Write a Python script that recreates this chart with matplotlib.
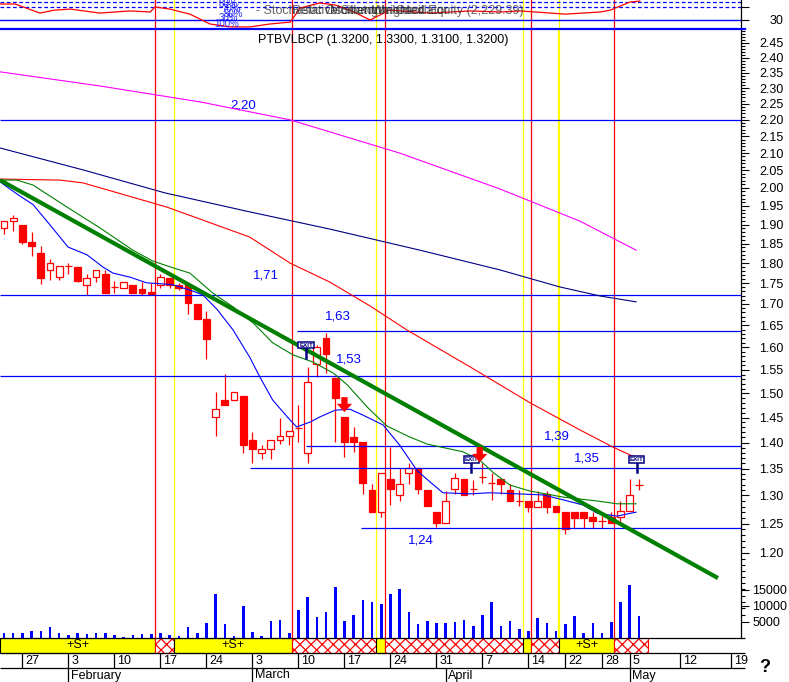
import matplotlib
matplotlib.use("Agg")
import matplotlib.pyplot as plt
from matplotlib.patches import Rectangle
from matplotlib.lines import Line2D
from matplotlib.ticker import FixedLocator, FormatStrFormatter, NullFormatter

W, H = 789, 682
plt.rcParams['font.family'] = ['Liberation Sans', 'DejaVu Sans']
plt.rcParams['hatch.linewidth'] = 0.9
plt.rcParams['hatch.color'] = 'red'

# ---- daily bars ----
opens = [1.891, 1.909, 1.899, 1.854, 1.826, 1.783, 1.765, 1.793, 1.790, 1.746,
         1.765, 1.773, 1.741, 1.739, 1.746, 1.736, 1.729, 1.746, 1.763, 1.746,
         1.746, 1.700, 1.665, 1.451, 1.486, 1.486, 1.494, 1.405, 1.380, 1.387,
         1.405, 1.413, 1.429, 1.380, 1.563, 1.621, 1.532, 1.451, 1.411, 1.401,
         1.310, 1.270, 1.330, 1.301, 1.342, 1.351, 1.310, 1.270, 1.251, 1.312,
         1.330, 1.312, 1.334, 1.323, 1.330, 1.310, 1.290, 1.290, 1.279, 1.303,
         1.281, 1.270, 1.270, 1.270, 1.262, 1.254, 1.262, 1.262, 1.272, 1.320]
highs = [1.909, 1.925, 1.899, 1.880, 1.844, 1.811, 1.793, 1.800, 1.790, 1.773,
         1.783, 1.783, 1.756, 1.753, 1.746, 1.753, 1.751, 1.773, 1.763, 1.751,
         1.746, 1.700, 1.683, 1.503, 1.541, 1.503, 1.494, 1.421, 1.395, 1.405,
         1.449, 1.423, 1.476, 1.556, 1.605, 1.632, 1.535, 1.451, 1.431, 1.401,
         1.321, 1.342, 1.391, 1.351, 1.360, 1.351, 1.310, 1.270, 1.308, 1.342,
         1.330, 1.328, 1.360, 1.342, 1.330, 1.321, 1.310, 1.290, 1.308, 1.308,
         1.281, 1.270, 1.270, 1.270, 1.270, 1.263, 1.270, 1.290, 1.330, 1.330]
lows = [1.875, 1.883, 1.849, 1.818, 1.748, 1.758, 1.758, 1.773, 1.753, 1.722,
        1.753, 1.726, 1.726, 1.739, 1.726, 1.722, 1.724, 1.739, 1.739, 1.734,
        1.676, 1.665, 1.574, 1.413, 1.476, 1.486, 1.380, 1.360, 1.368, 1.368,
        1.397, 1.395, 1.401, 1.360, 1.535, 1.543, 1.401, 1.372, 1.382, 1.303,
        1.270, 1.262, 1.283, 1.290, 1.321, 1.303, 1.281, 1.244, 1.251, 1.303,
        1.301, 1.301, 1.323, 1.292, 1.303, 1.290, 1.281, 1.270, 1.279, 1.268,
        1.270, 1.232, 1.242, 1.242, 1.242, 1.242, 1.251, 1.251, 1.272, 1.310]
closes = [1.909, 1.917, 1.854, 1.844, 1.763, 1.800, 1.793, 1.793, 1.756, 1.763,
          1.783, 1.726, 1.741, 1.753, 1.726, 1.726, 1.724, 1.765, 1.746, 1.739,
          1.702, 1.665, 1.619, 1.467, 1.476, 1.503, 1.395, 1.387, 1.387, 1.405,
          1.413, 1.423, 1.429, 1.524, 1.600, 1.585, 1.490, 1.401, 1.401, 1.323,
          1.270, 1.342, 1.312, 1.321, 1.351, 1.312, 1.281, 1.251, 1.290, 1.332,
          1.301, 1.312, 1.334, 1.323, 1.321, 1.290, 1.290, 1.279, 1.290, 1.279,
          1.270, 1.241, 1.260, 1.260, 1.254, 1.254, 1.251, 1.272, 1.301, 1.320]
volume = [1600, 1600, 1500, 2200, 2200, 3500, 1600, 800, 1600, 1300,
          1600, 1600, 1000, 400, 800, 1300, 1400, 1500, 1000, 600,
          3500, 1600, 4700, 13900, 4400, 600, 10000, 2000, 600, 5300,
          5700, 1600, 8800, 12700, 6700, 8000, 15900, 5300, 7300, 12000,
          11400, 10600, 13900, 15300, 8000, 4400, 5300, 4700, 4700, 5100,
          5500, 3900, 7100, 11400, 3900, 5300, 2900, 2200, 6300, 4700,
          2200, 4500, 7000, 1600, 4700, 1600, 5100, 11400, 16600, 7000]

# ---- overlay lines (bar position, price) ----
magenta_x = [-0.43, 10.4, 21.3, 31.1, 43.0, 53.9, 62.6, 68.7]
magenta_y = [2.353, 2.307, 2.256, 2.200, 2.100, 1.997, 1.909, 1.833]
navy_x = [-0.43, 8.6, 17.5, 26.7, 35.4, 45.2, 53.9, 60.4, 64.8, 68.7]
navy_y = [2.115, 2.051, 1.986, 1.934, 1.888, 1.833, 1.783, 1.741, 1.719, 1.705]
redma_x = [-0.43, 6.1, 8.6, 17.7, 26.7, 31.1, 35.4, 39.8, 43.8, 50.7, 57.2, 62.6, 66.2, 68.8]
redma_y = [2.025, 2.022, 2.014, 1.947, 1.867, 1.800, 1.753, 1.695, 1.639, 1.556, 1.480, 1.425, 1.391, 1.370]
blue_x = [-0.43, 1.52, 3.15, 5.0, 6.96, 9.02, 10.76, 11.85, 13.7, 15.5, 17.5, 18.4, 20.5, 21.6,
          23.2, 24.9, 26.7, 27.8, 29.2, 30.8, 31.8, 33.3, 34.3, 36.0, 37.6, 39.0, 41.2, 43.0,
          44.9, 46.3, 47.7, 50.7, 52.8, 55.8, 58.6, 60.8, 62.9, 64.5, 66.6, 68.7]
blue_y = [2.017, 1.981, 1.954, 1.899, 1.841, 1.821, 1.790, 1.775, 1.765, 1.751, 1.748, 1.746, 1.731, 1.722,
          1.686, 1.639, 1.578, 1.535, 1.486, 1.451, 1.431, 1.441, 1.451, 1.465, 1.467, 1.455, 1.435, 1.395,
          1.346, 1.325, 1.305, 1.303, 1.305, 1.303, 1.301, 1.292, 1.283, 1.268, 1.263, 1.270]
green_x = [-0.43, 1.41, 3.15, 6.85, 10.43, 14.0, 16.2, 18.4, 20.2, 22.7, 24.9, 27.1, 29.2, 31.4, 33.6,
           35.8, 37.3, 39.5, 41.6, 44.1, 46.0, 49.9, 51.7, 53.2, 55.0, 57.2, 60.8, 64.5, 66.6, 68.7]
green_y = [2.022, 2.022, 2.008, 1.947, 1.891, 1.833, 1.805, 1.788, 1.775, 1.726, 1.693, 1.655, 1.610, 1.583, 1.567,
           1.543, 1.518, 1.471, 1.433, 1.411, 1.397, 1.382, 1.366, 1.342, 1.319, 1.308, 1.297, 1.290, 1.285, 1.285]
trend_x = [-0.43, 77.6]
trend_y = [2.022, 1.158]

# horizontal levels
level_vals = [2.20, 1.722, 1.637, 1.537, 1.393, 1.351, 1.242]
level_from = [-0.43, -0.43, 31.85, -0.43, 32.8, 26.7, 38.8]
level_text = ["2,20", "1,71", "1,63", "1,53", "1,39", "1,35", "1,24"]

# signals
red_events = [16.4, 31.3, 41.4, 57.3, 66.3]
yellow_events = [18.5, 40.4, 56.4, 60.3]
exit_bars = [32.85, 50.8, 68.75]
exit_price = [1.605, 1.368, 1.368]
exit_stem = [1.576, 1.344, 1.344]
arrow_bars = [37.0, 51.7]
arrow_top = [1.492, 1.391]
arrow_tip = [1.461, 1.362]
band_edges = [-0.43, 16.4, 18.5, 31.3, 40.4, 41.4, 56.4, 57.3, 60.3, 66.3, 70.0]

# oscillator (top pane)
osc_x = [-0.43, 1.2, 3.9, 5.5, 7.2, 10.4, 13.7, 15.9, 16.4, 18.0, 20.2, 22.4, 24.6, 26.7, 28.9, 31.1,
         32.2, 34.3, 36.0, 37.6, 39.8, 41.9, 46.3, 50.7, 53.9, 56.1, 59.4, 61.0, 64.8, 65.9, 68.0, 69.1]
osc_y = [90, 90, 56, 67, 71, 56, 64, 60, 79, 71, 52, 15, 4, 4, 15, 22,
         75, 94, 86, 67, 30, 67, 56, 64, 60, 64, 56, 52, 60, 67, 97, 101]

# axis labels
price_ticks = [1.20, 1.25, 1.30, 1.35, 1.40, 1.45, 1.50, 1.55, 1.60, 1.65, 1.70, 1.75, 1.80,
               1.85, 1.90, 1.95, 2.00, 2.05, 2.10, 2.15, 2.20, 2.25, 2.30, 2.35, 2.40, 2.45]
minor_ticks = [k / 100 for k in range(110, 250)]
vol_ticks = [5000, 10000, 15000]
day_pos = [2, 7, 12, 17, 22, 27, 32, 37, 42, 47, 52, 57, 61, 65, 68, 73.5, 79]
day_lbl = ["27", "3", "10", "17", "24", "3", "10", "17", "24", "31", "7", "14", "22", "28", "5", "12", "19"]
month_pos = [7, 27, 48, 68]
month_lbl = ["February", "March", "April", "May"]

XMIN, XMAX = -0.435, 80.1
idx = list(range(len(closes)))


def box(x0, y0, x1, y1):
    return [x0 / W, 1 - y1 / H, (x1 - x0) / W, (y1 - y0) / H]


def fx(x):
    return x / W


def fy(y):
    return 1 - y / H


fig = plt.figure(figsize=(W / 100, H / 100), dpi=100)
fig.patch.set_facecolor('white')

# =========================
# price pane
# =========================
ax = fig.add_axes(box(0, 30, 741, 638))
ax.set_yscale('log')
ax.set_ylim(1.0648, 2.495)
ax.set_xlim(XMIN, XMAX)
for s in ['left', 'top', 'bottom']:
    ax.spines[s].set_visible(False)
ax.spines['right'].set_linewidth(0.9)
ax.set_xticks([])
ax.yaxis.set_major_locator(FixedLocator(price_ticks))
ax.yaxis.set_major_formatter(FormatStrFormatter('%.2f'))
ax.yaxis.set_minor_locator(FixedLocator(minor_ticks))
ax.yaxis.set_minor_formatter(NullFormatter())
ax.tick_params(axis='y', which='both', left=False, right=True, labelleft=False,
               labelright=True, direction='out', width=0.8)
ax.tick_params(axis='y', which='major', length=6, pad=7, labelsize=9)
ax.tick_params(axis='y', which='minor', length=3)

for x in red_events:
    ax.axvline(x, color='red', lw=0.9, zorder=1)
for x in yellow_events:
    ax.axvline(x, color='#ffff00', lw=1.6 if x > 60 else 0.9, zorder=1)

for i in idx:
    o, h, l, c = opens[i], highs[i], lows[i], closes[i]
    ax.vlines(i, l, h, color='red', lw=0.9, zorder=3)
    if abs(c - o) < 1e-6:
        ax.hlines(o, i - 0.4, i + 0.4, color='red', lw=0.9, zorder=4)
    else:
        ax.add_patch(Rectangle((i - 0.37, min(o, c)), 0.74, abs(c - o),
                               facecolor='white' if c > o else 'red',
                               edgecolor='red', lw=0.9, zorder=4))

for v, x0 in zip(level_vals, level_from):
    ax.hlines(v, x0, XMAX, color='blue', lw=0.9, zorder=5)

ax.plot(magenta_x, magenta_y, color='#ff00ff', lw=0.8, zorder=5)
ax.plot(navy_x, navy_y, color='#000080', lw=0.8, zorder=5)
ax.plot(redma_x, redma_y, color='red', lw=0.8, zorder=5)
ax.plot(green_x, green_y, color='green', lw=0.8, zorder=5)
ax.plot(blue_x, blue_y, color='blue', lw=0.8, zorder=5)
ax.plot(trend_x, trend_y, color='#008000', lw=3.0, zorder=6, solid_capstyle='butt')

# level labels
ax.text(26.0, 2.246, level_text[0], color='blue', ha='center', va='center', fontsize=9.5)
ax.text(28.5, 1.768, level_text[1], color='blue', ha='center', va='center', fontsize=9.5)
ax.text(36.3, 1.671, level_text[2], color='blue', ha='center', va='center', fontsize=9.5)
ax.text(37.5, 1.572, level_text[3], color='blue', ha='center', va='center', fontsize=9.5)
ax.text(60.1, 1.411, level_text[4], color='blue', ha='center', va='center', fontsize=9.5)
ax.text(63.3, 1.370, level_text[5], color='blue', ha='center', va='center', fontsize=9.5)
ax.text(45.3, 1.221, level_text[6], color='blue', ha='center', va='center', fontsize=9.5)

# exit flags and sell arrows
for x, p, s in zip(exit_bars, exit_price, exit_stem):
    ax.plot([x, x], [s, p * 0.995], color='#000080', lw=1.8, zorder=7)
    ax.text(x, p, "EXIT", fontsize=4.5, color='#000080', ha='center', va='center',
            fontweight='bold', zorder=8,
            bbox=dict(boxstyle='square,pad=0.15', fc='white', ec='#000080', lw=1.1))
for x, t, b in zip(arrow_bars, arrow_top, arrow_tip):
    ax.annotate('', xy=(x, b), xytext=(x, t), zorder=8,
                arrowprops=dict(arrowstyle='simple,head_width=1.1,head_length=0.6,tail_width=0.45',
                                color='red', lw=0, shrinkA=0, shrinkB=0))

fig.text(fx(258), fy(40), "PTBVLBCP (1.3200, 1.3300, 1.3100, 1.3200)",
         ha='left', va='center', fontsize=9)

# =========================
# volume
# =========================
axv = fig.add_axes(box(0, 580, 741, 638), facecolor='none')
axv.set_xlim(XMIN, XMAX)
axv.set_ylim(0, 18125)
axv.bar(idx, volume, width=0.28, color='blue', zorder=3)
for s in axv.spines.values():
    s.set_visible(False)
axv.set_xticks([])
axv.set_yticks(vol_ticks)
axv.set_yticklabels([str(v) for v in vol_ticks])
axv.tick_params(axis='y', left=False, right=True, labelleft=False, labelright=True,
                length=6, width=0.8, pad=2, labelsize=9)

# =========================
# indicator pane (top)
# =========================
axt = fig.add_axes(box(0, 0, 741, 28))
axt.set_xlim(XMIN, XMAX)
axt.set_ylim(0, 105)
for s in ['left', 'top', 'bottom']:
    axt.spines[s].set_visible(False)
axt.spines['right'].set_linewidth(0.9)
axt.set_xticks([])
axt.set_yticks([30, 80])
axt.set_yticklabels([])
axt.tick_params(axis='y', left=False, right=True, length=6, width=0.8)
for x in red_events:
    axt.axvline(x, color='red', lw=0.9)
for x in yellow_events:
    axt.axvline(x, color='#ffff00', lw=0.9)
axt.axhline(97.5, color='blue', lw=0.9, ls=(0, (3, 2)))
axt.axhline(78.75, color='blue', lw=0.9, ls=(0, (3, 2)))
axt.axhline(30, color='blue', lw=1.0)
axt.plot(osc_x, osc_y, color='red', lw=0.9)
fig.text(fx(776), fy(21), "30", ha='center', va='center', fontsize=9)

# overlapping legend texts of the hidden panes
for xx, tt in [(256, "- Stochastic Oscillator"), (292, "Relative Strength Index"),
               (330, "Momentum Oscillator"), (372, "Weighted Equity (2,229.39)")]:
    fig.text(fx(xx), fy(11), tt, ha='left', va='center', fontsize=9, color='#303030', alpha=0.75)
for xx, yy, tt in [(219, 4, "80%"), (221, 9, "70%"), (224, 14, "50%"), (219, 18, "30%"), (214, 24, "100%")]:
    fig.text(fx(xx), fy(yy), tt, ha='left', va='center', fontsize=7, color='blue', alpha=0.8)

fig.add_artist(Line2D([0, fx(745)], [fy(28.5), fy(28.5)], color='blue', lw=1.6))

# =========================
# signal band and date axis
# =========================
axb = fig.add_axes(box(0, 638, 741, 682), facecolor='none')
axb.set_xlim(XMIN, XMAX)
axb.set_ylim(44, 0)
axb.axis('off')
for k in range(len(band_edges) - 1):
    x0, x1 = band_edges[k], band_edges[k + 1]
    if k % 2 == 0:
        axb.add_patch(Rectangle((x0, 0), x1 - x0, 15, facecolor='#ffff00', edgecolor='black', lw=0.8))
        if x1 - x0 > 5:
            axb.text((x0 + x1) / 2, 7.5, "+S+", ha='center', va='center', fontsize=9)
    else:
        axb.add_patch(Rectangle((x0, 0), x1 - x0, 15, facecolor='white', edgecolor='red',
                                hatch='xxx', lw=0.8))
axb.hlines([0, 15, 30], XMIN, XMAX + 0.4, color='black', lw=0.9, clip_on=False)
axb.vlines(day_pos, 15, 30, color='black', lw=0.9)
for p, t in zip(day_pos, day_lbl):
    axb.text(p + 0.3, 23, t, ha='left', va='center', fontsize=9)
axb.vlines(month_pos, 30, 44, color='black', lw=0.9)
for p, t in zip(month_pos, month_lbl):
    axb.text(p + 0.25, 37.5, t, ha='left', va='center', fontsize=9)

fig.text(fx(765), fy(668), "?", ha='center', va='center', fontsize=13, fontweight='bold')

fig.savefig("out.png", dpi=100, facecolor='white')
